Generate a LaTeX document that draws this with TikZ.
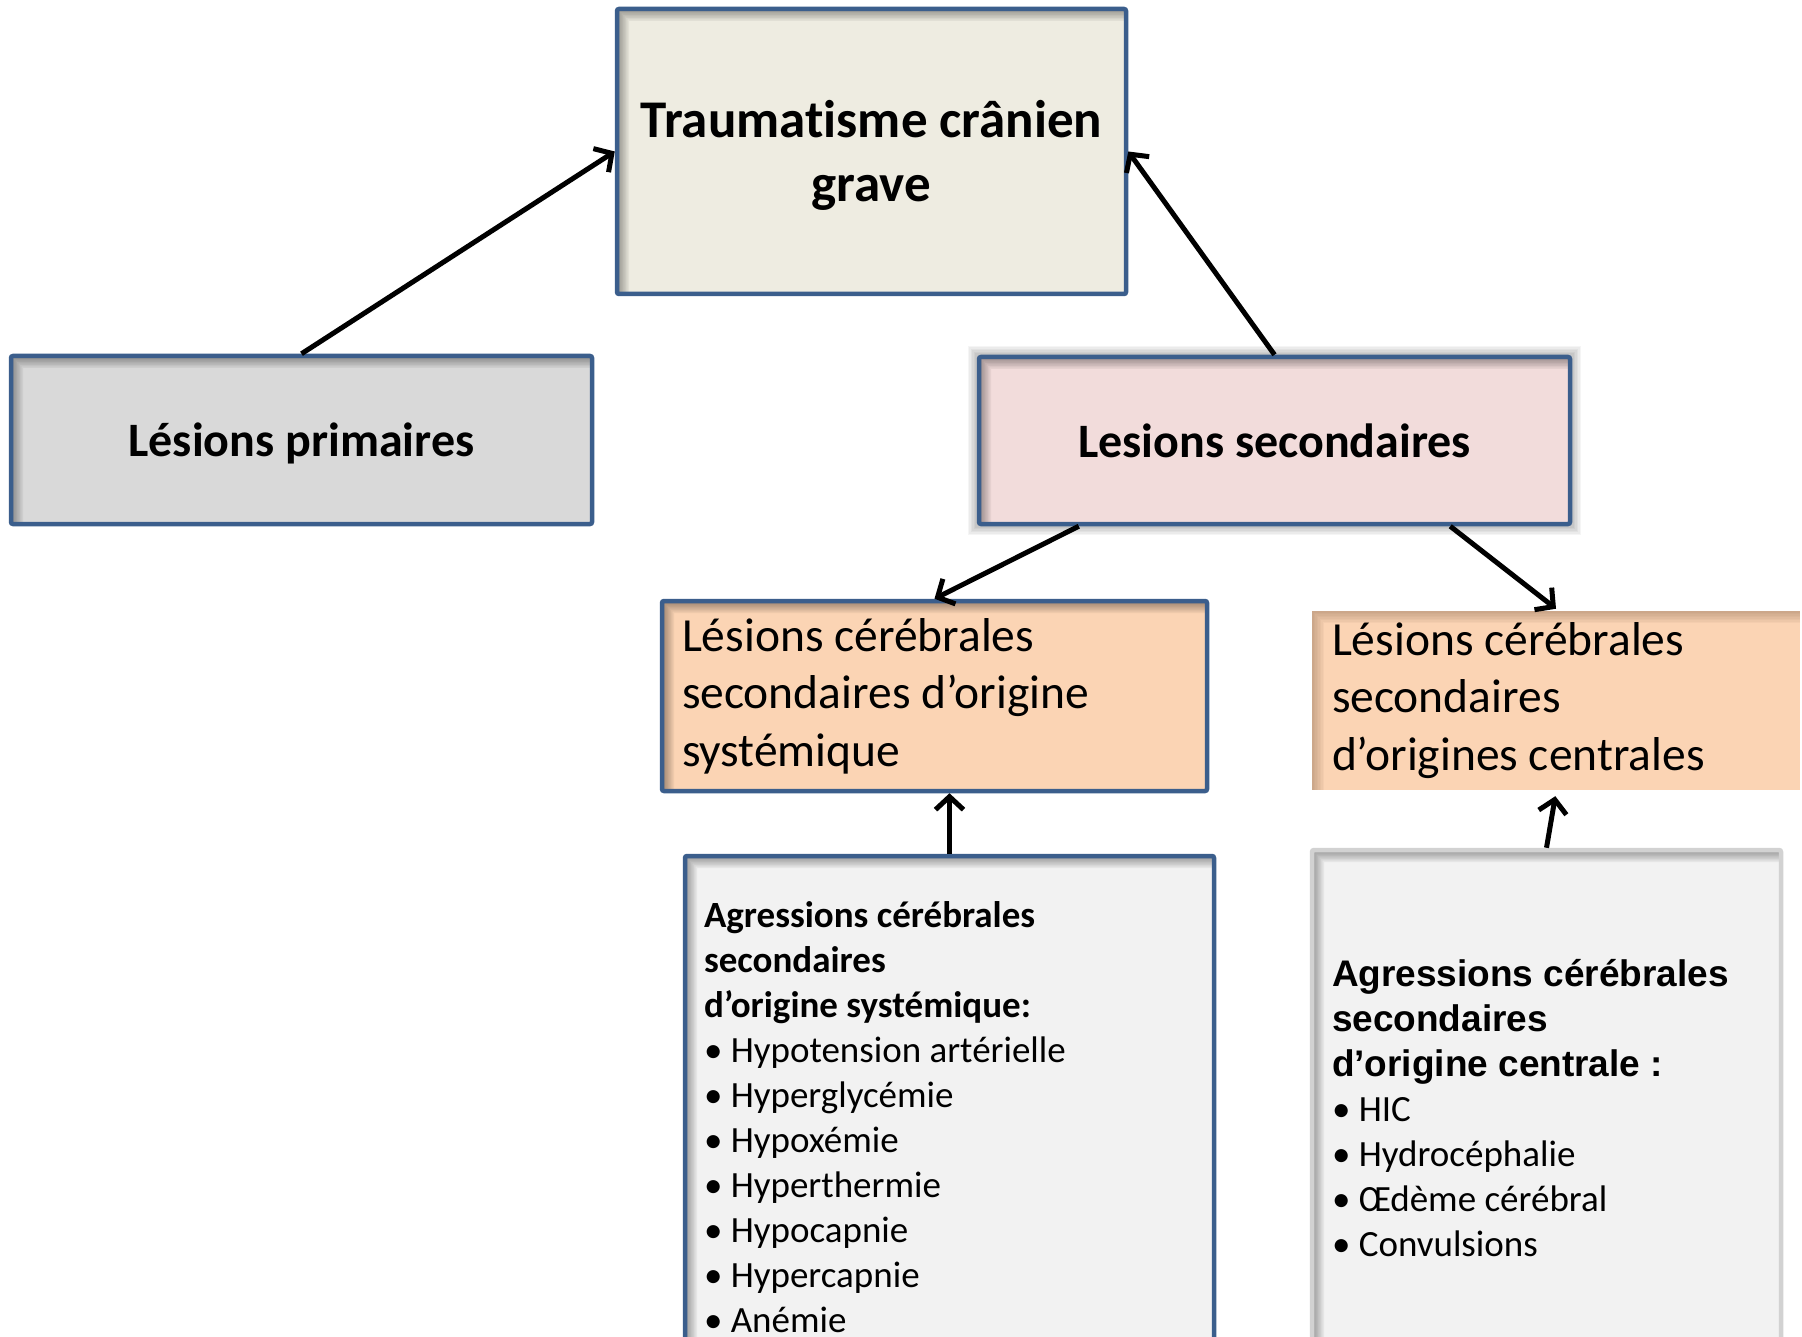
\documentclass[tikz,border=0pt]{standalone}
\usepackage{fontspec}
\setmainfont{Carlito}[Ligatures=NoCommon]
\newfontfamily\arialfont{Liberation Sans}
\usetikzlibrary{arrows.meta,backgrounds}
\definecolor{bord}{HTML}{3B5E8C}
\definecolor{tanfill}{HTML}{EEECE1}
\definecolor{grayfill}{HTML}{D9D9D9}
\definecolor{pinkfill}{HTML}{F2DCDB}
\definecolor{orangefill}{HTML}{FBD4B4}
\definecolor{lightfill}{HTML}{F2F2F2}
\definecolor{lightbord}{HTML}{D2D2D2}
\definecolor{brownsh}{HTML}{7A5A40}
\newcommand\natspace{\spaceskip=0pt\xspaceskip=0pt\relax}
\tikzset{
  ishadow/.style={path picture={
    \foreach \w in {3,6,...,24}{
      \draw[#1, opacity=0.05, line width={\w*1pt}]
        (path picture bounding box.south west) -- (path picture bounding box.north west)
        -- (path picture bounding box.north east);
    }}},
  box/.style={rectangle, draw=bord, line width=4.5pt, inner sep=0pt, rounded corners=2pt,
    execute at begin node=\natspace},
  headbox/.style={box, font=\fontsize{48}{64}\selectfont\bfseries, align=center},
  listbox/.style={box, inner xsep=20pt, inner ysep=0pt, align=left},
  conn/.style={line width=5pt, -{Straight Barb[length=13pt,width=28pt]}}
}
\begin{document}
\begin{tikzpicture}[x=1pt,y=-1pt]
\useasboundingbox (0,0) rectangle (1802,1337);
\clip (0,0) rectangle (1802,1337);
\begin{pgfonlayer}{background}
\fill[white] (0,0) rectangle (1802,1337);
\end{pgfonlayer}

\node[headbox, fill=tanfill, ishadow=black, minimum width=509pt, minimum height=285pt,
  font=\fontsize{53}{64}\selectfont\bfseries]
  (top) at (871.5,151.5) {\rule{0pt}{44pt}Traumatisme crânien\\grave};
\node[headbox, fill=grayfill, ishadow=black, minimum width=581pt, minimum height=168pt, text depth=0pt]
  (prim) at (301.5,440) {Lésions primaires};
\node[headbox, fill=pinkfill, ishadow=black, minimum width=591pt, minimum height=167pt]
  (sec) at (1274.5,440.5) {Lesions secondaires};

\node[listbox, fill=orangefill, ishadow=black, text width=505pt, minimum height=190pt,
  font=\fontsize{47.5}{57.5}\selectfont]
  (sys) at (934.5,696) {Lésions cérébrales\\secondaires d’origine\\systémique};
\node[listbox, draw=none, rounded corners=0pt, fill=orangefill, ishadow=brownsh, text width=448pt, minimum height=179pt,
  font=\fontsize{47.5}{57.5}\selectfont]
  (cent) at (1556,700.5) {Lésions cérébrales\\secondaires\\d’origines centrales};

\node[listbox, fill=lightfill, ishadow=black, inner xsep=19pt, text width=491pt, minimum height=522pt,
  font=\fontsize{37}{45}\selectfont]
  (ag1) at (949.5,1117) {\textbf{Agressions cérébrales}\\\textbf{secondaires}\\\textbf{d’origine systémique:}\\
  • Hypotension artérielle\\• Hyperglycémie\\• Hypoxémie\\• Hyperthermie\\• Hypocapnie\\• Hypercapnie\\• Anémie};
\node[listbox, draw=lightbord, fill=lightfill, ishadow=black, text width=429pt, minimum height=516pt,
  font=\fontsize{37}{45}\selectfont]
  (ag2) at (1546.5,1108) {{\arialfont\bfseries\fontsize{37}{45}\selectfont\natspace Agressions cérébrales\\secondaires\\d’origine centrale :}\\
  • HIC\\• Hydrocéphalie\\• Œdème cérébral\\• Convulsions};

\begin{pgfonlayer}{background}
\foreach \w in {3,6,...,18}{
  \draw[black, opacity=0.04, line width={\w*1pt}] (sec.north west) rectangle (sec.south east);
}
\end{pgfonlayer}

\draw[conn] (prim.north) -- (top.west);
\draw[conn] (sec.north) -- (top.east);
\draw[conn] ([xshift=102pt]sec.south west) -- (sys.north);
\draw[conn] ([xshift=-122pt]sec.south east) -- (cent.north);
\draw[conn] (ag1.north) -- ([xshift=15pt]sys.south);
\draw[conn, shorten >=4pt] (ag2.north) -- (cent.south);
\end{tikzpicture}
\end{document}
